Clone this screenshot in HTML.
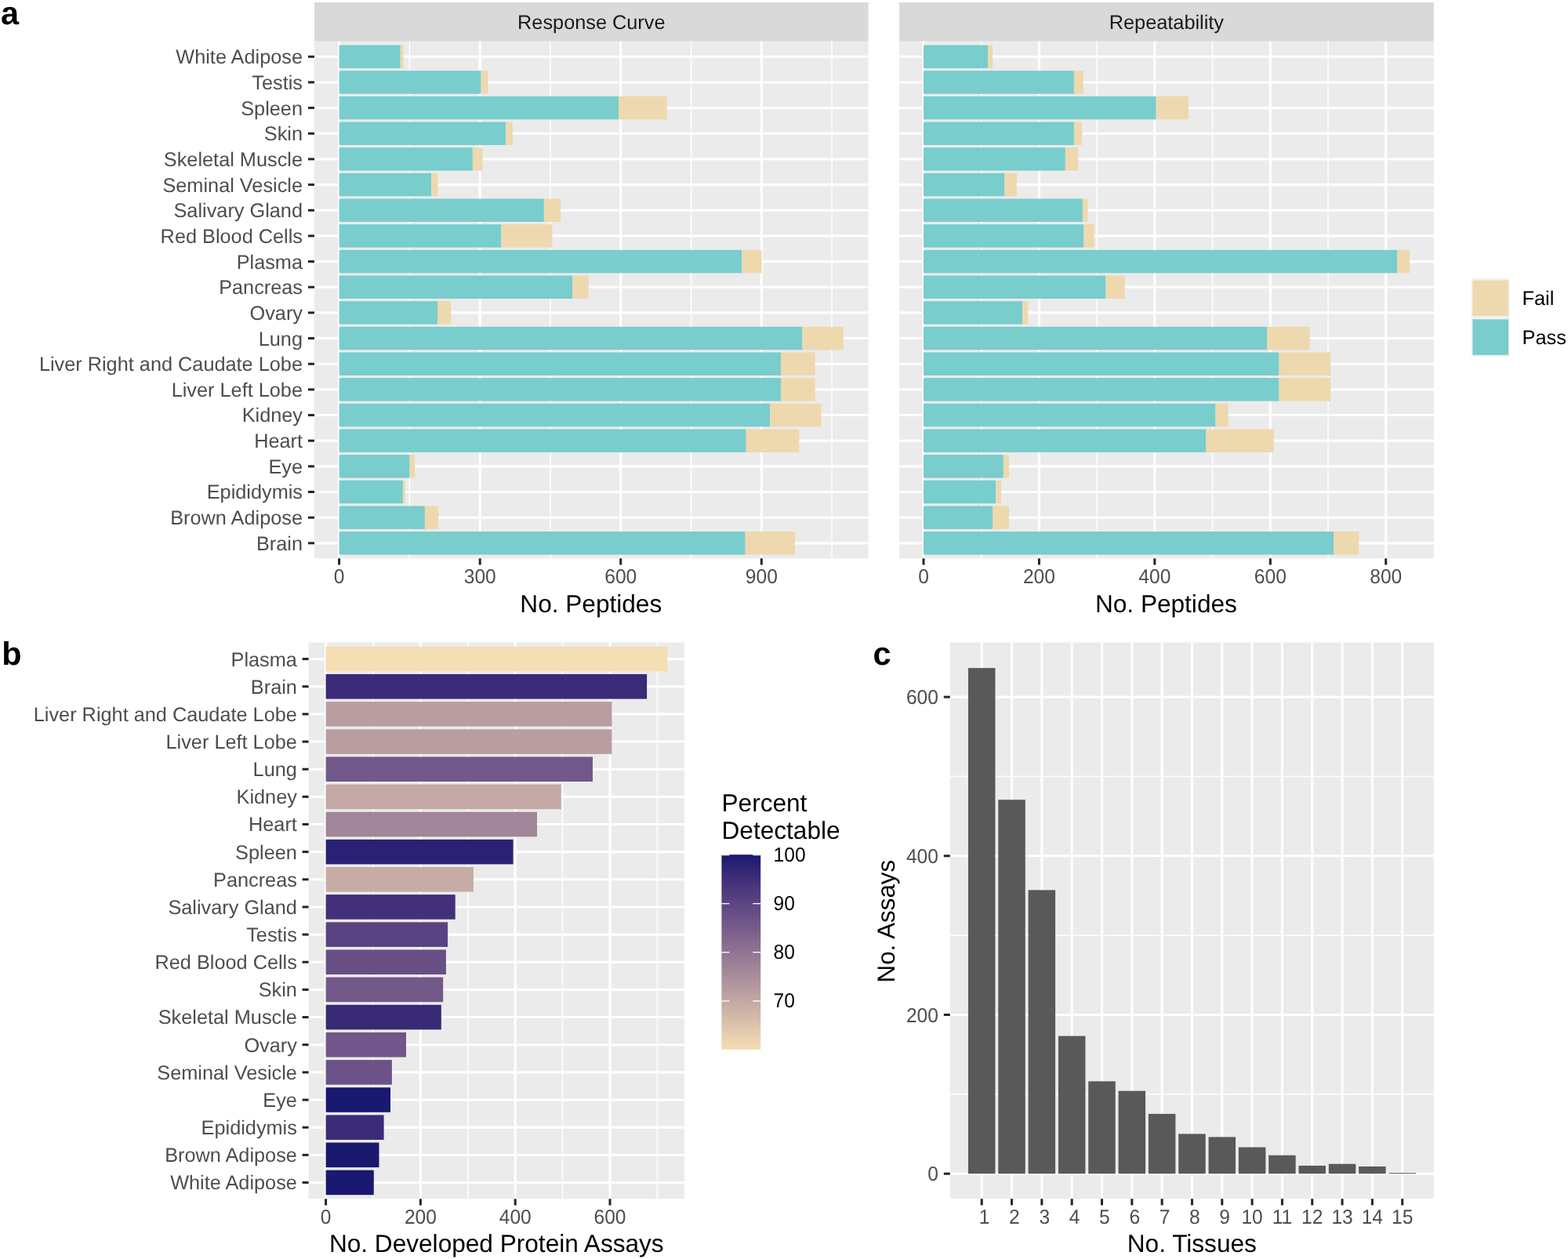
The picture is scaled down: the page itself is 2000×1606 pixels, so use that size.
<!DOCTYPE html>
<html lang="en">
<head>
<meta charset="utf-8">
<title>Figure: peptide assay characterization</title>
<style>
html,body{margin:0;padding:0;background:#fff;}
body{width:2000px;height:1606px;overflow:hidden;}
svg{display:block;font-family:"Liberation Sans", sans-serif;}
svg text{font-family:"Liberation Sans", sans-serif;}
</style>
</head>
<body>
<svg width="2000" height="1606" viewBox="0 0 2000 1606" shape-rendering="auto" text-rendering="geometricPrecision">
<rect x="0" y="0" width="2000" height="1606" fill="#ffffff"/>
<g>
<rect x="401.00" y="3.00" width="706.60" height="49.80" fill="#D9D9D9"/>
<rect x="401.00" y="52.80" width="706.60" height="659.50" fill="#EBEBEB"/>
<line x1="522.40" y1="52.80" x2="522.40" y2="712.30" stroke="#fff" stroke-width="1.5"/>
<line x1="702.00" y1="52.80" x2="702.00" y2="712.30" stroke="#fff" stroke-width="1.5"/>
<line x1="881.50" y1="52.80" x2="881.50" y2="712.30" stroke="#fff" stroke-width="1.5"/>
<line x1="1061.10" y1="52.80" x2="1061.10" y2="712.30" stroke="#fff" stroke-width="1.5"/>
<line x1="401.00" y1="72.30" x2="1107.60" y2="72.30" stroke="#fff" stroke-width="3.1"/>
<line x1="401.00" y1="104.96" x2="1107.60" y2="104.96" stroke="#fff" stroke-width="3.1"/>
<line x1="401.00" y1="137.62" x2="1107.60" y2="137.62" stroke="#fff" stroke-width="3.1"/>
<line x1="401.00" y1="170.28" x2="1107.60" y2="170.28" stroke="#fff" stroke-width="3.1"/>
<line x1="401.00" y1="202.94" x2="1107.60" y2="202.94" stroke="#fff" stroke-width="3.1"/>
<line x1="401.00" y1="235.60" x2="1107.60" y2="235.60" stroke="#fff" stroke-width="3.1"/>
<line x1="401.00" y1="268.26" x2="1107.60" y2="268.26" stroke="#fff" stroke-width="3.1"/>
<line x1="401.00" y1="300.92" x2="1107.60" y2="300.92" stroke="#fff" stroke-width="3.1"/>
<line x1="401.00" y1="333.58" x2="1107.60" y2="333.58" stroke="#fff" stroke-width="3.1"/>
<line x1="401.00" y1="366.24" x2="1107.60" y2="366.24" stroke="#fff" stroke-width="3.1"/>
<line x1="401.00" y1="398.90" x2="1107.60" y2="398.90" stroke="#fff" stroke-width="3.1"/>
<line x1="401.00" y1="431.56" x2="1107.60" y2="431.56" stroke="#fff" stroke-width="3.1"/>
<line x1="401.00" y1="464.22" x2="1107.60" y2="464.22" stroke="#fff" stroke-width="3.1"/>
<line x1="401.00" y1="496.88" x2="1107.60" y2="496.88" stroke="#fff" stroke-width="3.1"/>
<line x1="401.00" y1="529.54" x2="1107.60" y2="529.54" stroke="#fff" stroke-width="3.1"/>
<line x1="401.00" y1="562.20" x2="1107.60" y2="562.20" stroke="#fff" stroke-width="3.1"/>
<line x1="401.00" y1="594.86" x2="1107.60" y2="594.86" stroke="#fff" stroke-width="3.1"/>
<line x1="401.00" y1="627.52" x2="1107.60" y2="627.52" stroke="#fff" stroke-width="3.1"/>
<line x1="401.00" y1="660.18" x2="1107.60" y2="660.18" stroke="#fff" stroke-width="3.1"/>
<line x1="401.00" y1="692.84" x2="1107.60" y2="692.84" stroke="#fff" stroke-width="3.1"/>
<line x1="432.60" y1="52.80" x2="432.60" y2="712.30" stroke="#fff" stroke-width="3.1"/>
<line x1="612.20" y1="52.80" x2="612.20" y2="712.30" stroke="#fff" stroke-width="3.1"/>
<line x1="791.70" y1="52.80" x2="791.70" y2="712.30" stroke="#fff" stroke-width="3.1"/>
<line x1="971.30" y1="52.80" x2="971.30" y2="712.30" stroke="#fff" stroke-width="3.1"/>
<rect x="432.60" y="57.55" width="78.05" height="29.50" fill="#79CDCD"/>
<rect x="510.65" y="57.55" width="3.80" height="29.50" fill="#EED8AE"/>
<rect x="432.60" y="90.21" width="181.05" height="29.50" fill="#79CDCD"/>
<rect x="613.65" y="90.21" width="8.80" height="29.50" fill="#EED8AE"/>
<rect x="432.60" y="122.87" width="356.45" height="29.50" fill="#79CDCD"/>
<rect x="789.05" y="122.87" width="61.60" height="29.50" fill="#EED8AE"/>
<rect x="432.60" y="155.53" width="212.65" height="29.50" fill="#79CDCD"/>
<rect x="645.25" y="155.53" width="8.60" height="29.50" fill="#EED8AE"/>
<rect x="432.60" y="188.19" width="170.25" height="29.50" fill="#79CDCD"/>
<rect x="602.85" y="188.19" width="12.60" height="29.50" fill="#EED8AE"/>
<rect x="432.60" y="220.85" width="117.65" height="29.50" fill="#79CDCD"/>
<rect x="550.25" y="220.85" width="8.20" height="29.50" fill="#EED8AE"/>
<rect x="432.60" y="253.51" width="261.25" height="29.50" fill="#79CDCD"/>
<rect x="693.85" y="253.51" width="21.40" height="29.50" fill="#EED8AE"/>
<rect x="432.60" y="286.17" width="206.65" height="29.50" fill="#79CDCD"/>
<rect x="639.25" y="286.17" width="65.20" height="29.50" fill="#EED8AE"/>
<rect x="432.60" y="318.83" width="513.65" height="29.50" fill="#79CDCD"/>
<rect x="946.25" y="318.83" width="25.20" height="29.50" fill="#EED8AE"/>
<rect x="432.60" y="351.49" width="297.65" height="29.50" fill="#79CDCD"/>
<rect x="730.25" y="351.49" width="20.40" height="29.50" fill="#EED8AE"/>
<rect x="432.60" y="384.15" width="125.45" height="29.50" fill="#79CDCD"/>
<rect x="558.05" y="384.15" width="17.20" height="29.50" fill="#EED8AE"/>
<rect x="432.60" y="416.81" width="590.85" height="29.50" fill="#79CDCD"/>
<rect x="1023.45" y="416.81" width="52.20" height="29.50" fill="#EED8AE"/>
<rect x="432.60" y="449.47" width="563.45" height="29.50" fill="#79CDCD"/>
<rect x="996.05" y="449.47" width="43.60" height="29.50" fill="#EED8AE"/>
<rect x="432.60" y="482.13" width="563.45" height="29.50" fill="#79CDCD"/>
<rect x="996.05" y="482.13" width="43.60" height="29.50" fill="#EED8AE"/>
<rect x="432.60" y="514.79" width="549.65" height="29.50" fill="#79CDCD"/>
<rect x="982.25" y="514.79" width="65.20" height="29.50" fill="#EED8AE"/>
<rect x="432.60" y="547.45" width="519.05" height="29.50" fill="#79CDCD"/>
<rect x="951.65" y="547.45" width="67.60" height="29.50" fill="#EED8AE"/>
<rect x="432.60" y="580.11" width="90.05" height="29.50" fill="#79CDCD"/>
<rect x="522.65" y="580.11" width="6.60" height="29.50" fill="#EED8AE"/>
<rect x="432.60" y="612.77" width="81.25" height="29.50" fill="#79CDCD"/>
<rect x="513.85" y="612.77" width="2.90" height="29.50" fill="#EED8AE"/>
<rect x="432.60" y="645.43" width="109.25" height="29.50" fill="#79CDCD"/>
<rect x="541.85" y="645.43" width="17.40" height="29.50" fill="#EED8AE"/>
<rect x="432.60" y="678.09" width="518.05" height="29.50" fill="#79CDCD"/>
<rect x="950.65" y="678.09" width="63.40" height="29.50" fill="#EED8AE"/>
<line x1="432.60" y1="712.30" x2="432.60" y2="720.50" stroke="#242424" stroke-width="3.0"/>
<text transform="translate(432.60 744.30) scale(0.9480 1)" font-size="25.9" fill="#4D4D4D" text-anchor="middle">0</text>
<line x1="612.20" y1="712.30" x2="612.20" y2="720.50" stroke="#242424" stroke-width="3.0"/>
<text transform="translate(612.20 744.30) scale(0.9480 1)" font-size="25.9" fill="#4D4D4D" text-anchor="middle">300</text>
<line x1="791.70" y1="712.30" x2="791.70" y2="720.50" stroke="#242424" stroke-width="3.0"/>
<text transform="translate(791.70 744.30) scale(0.9480 1)" font-size="25.9" fill="#4D4D4D" text-anchor="middle">600</text>
<line x1="971.30" y1="712.30" x2="971.30" y2="720.50" stroke="#242424" stroke-width="3.0"/>
<text transform="translate(971.30 744.30) scale(0.9480 1)" font-size="25.9" fill="#4D4D4D" text-anchor="middle">900</text>
<text x="754.30" y="37.30" font-size="25.3" fill="#1A1A1A" text-anchor="middle">Response Curve</text>
<text x="753.80" y="781.10" font-size="31.6" fill="#000" text-anchor="middle">No. Peptides</text>
</g>
<g>
<rect x="1147.00" y="3.00" width="681.80" height="49.80" fill="#D9D9D9"/>
<rect x="1147.00" y="52.80" width="681.80" height="659.50" fill="#EBEBEB"/>
<line x1="1251.70" y1="52.80" x2="1251.70" y2="712.30" stroke="#fff" stroke-width="1.5"/>
<line x1="1399.10" y1="52.80" x2="1399.10" y2="712.30" stroke="#fff" stroke-width="1.5"/>
<line x1="1546.50" y1="52.80" x2="1546.50" y2="712.30" stroke="#fff" stroke-width="1.5"/>
<line x1="1694.00" y1="52.80" x2="1694.00" y2="712.30" stroke="#fff" stroke-width="1.5"/>
<line x1="1147.00" y1="72.30" x2="1828.80" y2="72.30" stroke="#fff" stroke-width="3.1"/>
<line x1="1147.00" y1="104.96" x2="1828.80" y2="104.96" stroke="#fff" stroke-width="3.1"/>
<line x1="1147.00" y1="137.62" x2="1828.80" y2="137.62" stroke="#fff" stroke-width="3.1"/>
<line x1="1147.00" y1="170.28" x2="1828.80" y2="170.28" stroke="#fff" stroke-width="3.1"/>
<line x1="1147.00" y1="202.94" x2="1828.80" y2="202.94" stroke="#fff" stroke-width="3.1"/>
<line x1="1147.00" y1="235.60" x2="1828.80" y2="235.60" stroke="#fff" stroke-width="3.1"/>
<line x1="1147.00" y1="268.26" x2="1828.80" y2="268.26" stroke="#fff" stroke-width="3.1"/>
<line x1="1147.00" y1="300.92" x2="1828.80" y2="300.92" stroke="#fff" stroke-width="3.1"/>
<line x1="1147.00" y1="333.58" x2="1828.80" y2="333.58" stroke="#fff" stroke-width="3.1"/>
<line x1="1147.00" y1="366.24" x2="1828.80" y2="366.24" stroke="#fff" stroke-width="3.1"/>
<line x1="1147.00" y1="398.90" x2="1828.80" y2="398.90" stroke="#fff" stroke-width="3.1"/>
<line x1="1147.00" y1="431.56" x2="1828.80" y2="431.56" stroke="#fff" stroke-width="3.1"/>
<line x1="1147.00" y1="464.22" x2="1828.80" y2="464.22" stroke="#fff" stroke-width="3.1"/>
<line x1="1147.00" y1="496.88" x2="1828.80" y2="496.88" stroke="#fff" stroke-width="3.1"/>
<line x1="1147.00" y1="529.54" x2="1828.80" y2="529.54" stroke="#fff" stroke-width="3.1"/>
<line x1="1147.00" y1="562.20" x2="1828.80" y2="562.20" stroke="#fff" stroke-width="3.1"/>
<line x1="1147.00" y1="594.86" x2="1828.80" y2="594.86" stroke="#fff" stroke-width="3.1"/>
<line x1="1147.00" y1="627.52" x2="1828.80" y2="627.52" stroke="#fff" stroke-width="3.1"/>
<line x1="1147.00" y1="660.18" x2="1828.80" y2="660.18" stroke="#fff" stroke-width="3.1"/>
<line x1="1147.00" y1="692.84" x2="1828.80" y2="692.84" stroke="#fff" stroke-width="3.1"/>
<line x1="1178.00" y1="52.80" x2="1178.00" y2="712.30" stroke="#fff" stroke-width="3.1"/>
<line x1="1325.40" y1="52.80" x2="1325.40" y2="712.30" stroke="#fff" stroke-width="3.1"/>
<line x1="1472.80" y1="52.80" x2="1472.80" y2="712.30" stroke="#fff" stroke-width="3.1"/>
<line x1="1620.30" y1="52.80" x2="1620.30" y2="712.30" stroke="#fff" stroke-width="3.1"/>
<line x1="1767.70" y1="52.80" x2="1767.70" y2="712.30" stroke="#fff" stroke-width="3.1"/>
<rect x="1178.00" y="57.55" width="82.25" height="29.50" fill="#79CDCD"/>
<rect x="1260.25" y="57.55" width="5.80" height="29.50" fill="#EED8AE"/>
<rect x="1178.00" y="90.21" width="191.85" height="29.50" fill="#79CDCD"/>
<rect x="1369.85" y="90.21" width="11.80" height="29.50" fill="#EED8AE"/>
<rect x="1178.00" y="122.87" width="296.65" height="29.50" fill="#79CDCD"/>
<rect x="1474.65" y="122.87" width="41.20" height="29.50" fill="#EED8AE"/>
<rect x="1178.00" y="155.53" width="191.85" height="29.50" fill="#79CDCD"/>
<rect x="1369.85" y="155.53" width="10.20" height="29.50" fill="#EED8AE"/>
<rect x="1178.00" y="188.19" width="180.85" height="29.50" fill="#79CDCD"/>
<rect x="1358.85" y="188.19" width="16.20" height="29.50" fill="#EED8AE"/>
<rect x="1178.00" y="220.85" width="103.45" height="29.50" fill="#79CDCD"/>
<rect x="1281.45" y="220.85" width="15.40" height="29.50" fill="#EED8AE"/>
<rect x="1178.00" y="253.51" width="202.85" height="29.50" fill="#79CDCD"/>
<rect x="1380.85" y="253.51" width="6.60" height="29.50" fill="#EED8AE"/>
<rect x="1178.00" y="286.17" width="204.45" height="29.50" fill="#79CDCD"/>
<rect x="1382.45" y="286.17" width="13.20" height="29.50" fill="#EED8AE"/>
<rect x="1178.00" y="318.83" width="604.05" height="29.50" fill="#79CDCD"/>
<rect x="1782.05" y="318.83" width="16.00" height="29.50" fill="#EED8AE"/>
<rect x="1178.00" y="351.49" width="232.45" height="29.50" fill="#79CDCD"/>
<rect x="1410.45" y="351.49" width="24.20" height="29.50" fill="#EED8AE"/>
<rect x="1178.00" y="384.15" width="126.25" height="29.50" fill="#79CDCD"/>
<rect x="1304.25" y="384.15" width="7.20" height="29.50" fill="#EED8AE"/>
<rect x="1178.00" y="416.81" width="438.05" height="29.50" fill="#79CDCD"/>
<rect x="1616.05" y="416.81" width="54.40" height="29.50" fill="#EED8AE"/>
<rect x="1178.00" y="449.47" width="453.45" height="29.50" fill="#79CDCD"/>
<rect x="1631.45" y="449.47" width="65.60" height="29.50" fill="#EED8AE"/>
<rect x="1178.00" y="482.13" width="453.45" height="29.50" fill="#79CDCD"/>
<rect x="1631.45" y="482.13" width="65.60" height="29.50" fill="#EED8AE"/>
<rect x="1178.00" y="514.79" width="372.45" height="29.50" fill="#79CDCD"/>
<rect x="1550.45" y="514.79" width="16.20" height="29.50" fill="#EED8AE"/>
<rect x="1178.00" y="547.45" width="360.05" height="29.50" fill="#79CDCD"/>
<rect x="1538.05" y="547.45" width="86.80" height="29.50" fill="#EED8AE"/>
<rect x="1178.00" y="580.11" width="101.85" height="29.50" fill="#79CDCD"/>
<rect x="1279.85" y="580.11" width="7.20" height="29.50" fill="#EED8AE"/>
<rect x="1178.00" y="612.77" width="92.25" height="29.50" fill="#79CDCD"/>
<rect x="1270.25" y="612.77" width="6.60" height="29.50" fill="#EED8AE"/>
<rect x="1178.00" y="645.43" width="88.05" height="29.50" fill="#79CDCD"/>
<rect x="1266.05" y="645.43" width="21.00" height="29.50" fill="#EED8AE"/>
<rect x="1178.00" y="678.09" width="523.45" height="29.50" fill="#79CDCD"/>
<rect x="1701.45" y="678.09" width="31.80" height="29.50" fill="#EED8AE"/>
<line x1="1178.00" y1="712.30" x2="1178.00" y2="720.50" stroke="#242424" stroke-width="3.0"/>
<text transform="translate(1178.00 744.30) scale(0.9480 1)" font-size="25.9" fill="#4D4D4D" text-anchor="middle">0</text>
<line x1="1325.40" y1="712.30" x2="1325.40" y2="720.50" stroke="#242424" stroke-width="3.0"/>
<text transform="translate(1325.40 744.30) scale(0.9480 1)" font-size="25.9" fill="#4D4D4D" text-anchor="middle">200</text>
<line x1="1472.80" y1="712.30" x2="1472.80" y2="720.50" stroke="#242424" stroke-width="3.0"/>
<text transform="translate(1472.80 744.30) scale(0.9480 1)" font-size="25.9" fill="#4D4D4D" text-anchor="middle">400</text>
<line x1="1620.30" y1="712.30" x2="1620.30" y2="720.50" stroke="#242424" stroke-width="3.0"/>
<text transform="translate(1620.30 744.30) scale(0.9480 1)" font-size="25.9" fill="#4D4D4D" text-anchor="middle">600</text>
<line x1="1767.70" y1="712.30" x2="1767.70" y2="720.50" stroke="#242424" stroke-width="3.0"/>
<text transform="translate(1767.70 744.30) scale(0.9480 1)" font-size="25.9" fill="#4D4D4D" text-anchor="middle">800</text>
<text x="1487.90" y="37.30" font-size="25.3" fill="#1A1A1A" text-anchor="middle">Repeatability</text>
<text x="1487.40" y="781.10" font-size="31.6" fill="#000" text-anchor="middle">No. Peptides</text>
</g>
<line x1="393.00" y1="72.30" x2="401.00" y2="72.30" stroke="#242424" stroke-width="3.0"/>
<text x="386.00" y="81.25" font-size="25.3" fill="#4D4D4D" text-anchor="end">White Adipose</text>
<line x1="393.00" y1="104.96" x2="401.00" y2="104.96" stroke="#242424" stroke-width="3.0"/>
<text x="386.00" y="113.91" font-size="25.3" fill="#4D4D4D" text-anchor="end">Testis</text>
<line x1="393.00" y1="137.62" x2="401.00" y2="137.62" stroke="#242424" stroke-width="3.0"/>
<text x="386.00" y="146.57" font-size="25.3" fill="#4D4D4D" text-anchor="end">Spleen</text>
<line x1="393.00" y1="170.28" x2="401.00" y2="170.28" stroke="#242424" stroke-width="3.0"/>
<text x="386.00" y="179.23" font-size="25.3" fill="#4D4D4D" text-anchor="end">Skin</text>
<line x1="393.00" y1="202.94" x2="401.00" y2="202.94" stroke="#242424" stroke-width="3.0"/>
<text x="386.00" y="211.89" font-size="25.3" fill="#4D4D4D" text-anchor="end">Skeletal Muscle</text>
<line x1="393.00" y1="235.60" x2="401.00" y2="235.60" stroke="#242424" stroke-width="3.0"/>
<text x="386.00" y="244.55" font-size="25.3" fill="#4D4D4D" text-anchor="end">Seminal Vesicle</text>
<line x1="393.00" y1="268.26" x2="401.00" y2="268.26" stroke="#242424" stroke-width="3.0"/>
<text x="386.00" y="277.21" font-size="25.3" fill="#4D4D4D" text-anchor="end">Salivary Gland</text>
<line x1="393.00" y1="300.92" x2="401.00" y2="300.92" stroke="#242424" stroke-width="3.0"/>
<text x="386.00" y="309.87" font-size="25.3" fill="#4D4D4D" text-anchor="end">Red Blood Cells</text>
<line x1="393.00" y1="333.58" x2="401.00" y2="333.58" stroke="#242424" stroke-width="3.0"/>
<text x="386.00" y="342.53" font-size="25.3" fill="#4D4D4D" text-anchor="end">Plasma</text>
<line x1="393.00" y1="366.24" x2="401.00" y2="366.24" stroke="#242424" stroke-width="3.0"/>
<text x="386.00" y="375.19" font-size="25.3" fill="#4D4D4D" text-anchor="end">Pancreas</text>
<line x1="393.00" y1="398.90" x2="401.00" y2="398.90" stroke="#242424" stroke-width="3.0"/>
<text x="386.00" y="407.85" font-size="25.3" fill="#4D4D4D" text-anchor="end">Ovary</text>
<line x1="393.00" y1="431.56" x2="401.00" y2="431.56" stroke="#242424" stroke-width="3.0"/>
<text x="386.00" y="440.51" font-size="25.3" fill="#4D4D4D" text-anchor="end">Lung</text>
<line x1="393.00" y1="464.22" x2="401.00" y2="464.22" stroke="#242424" stroke-width="3.0"/>
<text x="386.00" y="473.17" font-size="25.3" fill="#4D4D4D" text-anchor="end">Liver Right and Caudate Lobe</text>
<line x1="393.00" y1="496.88" x2="401.00" y2="496.88" stroke="#242424" stroke-width="3.0"/>
<text x="386.00" y="505.83" font-size="25.3" fill="#4D4D4D" text-anchor="end">Liver Left Lobe</text>
<line x1="393.00" y1="529.54" x2="401.00" y2="529.54" stroke="#242424" stroke-width="3.0"/>
<text x="386.00" y="538.49" font-size="25.3" fill="#4D4D4D" text-anchor="end">Kidney</text>
<line x1="393.00" y1="562.20" x2="401.00" y2="562.20" stroke="#242424" stroke-width="3.0"/>
<text x="386.00" y="571.15" font-size="25.3" fill="#4D4D4D" text-anchor="end">Heart</text>
<line x1="393.00" y1="594.86" x2="401.00" y2="594.86" stroke="#242424" stroke-width="3.0"/>
<text x="386.00" y="603.81" font-size="25.3" fill="#4D4D4D" text-anchor="end">Eye</text>
<line x1="393.00" y1="627.52" x2="401.00" y2="627.52" stroke="#242424" stroke-width="3.0"/>
<text x="386.00" y="636.47" font-size="25.3" fill="#4D4D4D" text-anchor="end">Epididymis</text>
<line x1="393.00" y1="660.18" x2="401.00" y2="660.18" stroke="#242424" stroke-width="3.0"/>
<text x="386.00" y="669.13" font-size="25.3" fill="#4D4D4D" text-anchor="end">Brown Adipose</text>
<line x1="393.00" y1="692.84" x2="401.00" y2="692.84" stroke="#242424" stroke-width="3.0"/>
<text x="386.00" y="701.79" font-size="25.3" fill="#4D4D4D" text-anchor="end">Brain</text>
<rect x="1876.40" y="355.20" width="49.40" height="99.60" fill="#F2F2F2"/>
<rect x="1878.30" y="357.60" width="45.70" height="45.40" fill="#EED8AE"/>
<rect x="1878.30" y="407.30" width="45.70" height="45.50" fill="#79CDCD"/>
<text x="1941.60" y="389.30" font-size="25.3" fill="#000">Fail</text>
<text x="1941.60" y="438.90" font-size="25.3" fill="#000">Pass</text>
<g>
<rect x="393.60" y="819.50" width="479.40" height="709.80" fill="#EBEBEB"/>
<line x1="476.00" y1="819.50" x2="476.00" y2="1529.30" stroke="#fff" stroke-width="1.5"/>
<line x1="596.80" y1="819.50" x2="596.80" y2="1529.30" stroke="#fff" stroke-width="1.5"/>
<line x1="717.60" y1="819.50" x2="717.60" y2="1529.30" stroke="#fff" stroke-width="1.5"/>
<line x1="838.40" y1="819.50" x2="838.40" y2="1529.30" stroke="#fff" stroke-width="1.5"/>
<line x1="393.60" y1="840.60" x2="873.00" y2="840.60" stroke="#fff" stroke-width="3.1"/>
<line x1="393.60" y1="875.75" x2="873.00" y2="875.75" stroke="#fff" stroke-width="3.1"/>
<line x1="393.60" y1="910.90" x2="873.00" y2="910.90" stroke="#fff" stroke-width="3.1"/>
<line x1="393.60" y1="946.05" x2="873.00" y2="946.05" stroke="#fff" stroke-width="3.1"/>
<line x1="393.60" y1="981.20" x2="873.00" y2="981.20" stroke="#fff" stroke-width="3.1"/>
<line x1="393.60" y1="1016.35" x2="873.00" y2="1016.35" stroke="#fff" stroke-width="3.1"/>
<line x1="393.60" y1="1051.50" x2="873.00" y2="1051.50" stroke="#fff" stroke-width="3.1"/>
<line x1="393.60" y1="1086.65" x2="873.00" y2="1086.65" stroke="#fff" stroke-width="3.1"/>
<line x1="393.60" y1="1121.80" x2="873.00" y2="1121.80" stroke="#fff" stroke-width="3.1"/>
<line x1="393.60" y1="1156.95" x2="873.00" y2="1156.95" stroke="#fff" stroke-width="3.1"/>
<line x1="393.60" y1="1192.10" x2="873.00" y2="1192.10" stroke="#fff" stroke-width="3.1"/>
<line x1="393.60" y1="1227.25" x2="873.00" y2="1227.25" stroke="#fff" stroke-width="3.1"/>
<line x1="393.60" y1="1262.40" x2="873.00" y2="1262.40" stroke="#fff" stroke-width="3.1"/>
<line x1="393.60" y1="1297.55" x2="873.00" y2="1297.55" stroke="#fff" stroke-width="3.1"/>
<line x1="393.60" y1="1332.70" x2="873.00" y2="1332.70" stroke="#fff" stroke-width="3.1"/>
<line x1="393.60" y1="1367.85" x2="873.00" y2="1367.85" stroke="#fff" stroke-width="3.1"/>
<line x1="393.60" y1="1403.00" x2="873.00" y2="1403.00" stroke="#fff" stroke-width="3.1"/>
<line x1="393.60" y1="1438.15" x2="873.00" y2="1438.15" stroke="#fff" stroke-width="3.1"/>
<line x1="393.60" y1="1473.30" x2="873.00" y2="1473.30" stroke="#fff" stroke-width="3.1"/>
<line x1="393.60" y1="1508.45" x2="873.00" y2="1508.45" stroke="#fff" stroke-width="3.1"/>
<line x1="415.60" y1="819.50" x2="415.60" y2="1529.30" stroke="#fff" stroke-width="3.1"/>
<line x1="536.40" y1="819.50" x2="536.40" y2="1529.30" stroke="#fff" stroke-width="3.1"/>
<line x1="657.20" y1="819.50" x2="657.20" y2="1529.30" stroke="#fff" stroke-width="3.1"/>
<line x1="778.00" y1="819.50" x2="778.00" y2="1529.30" stroke="#fff" stroke-width="3.1"/>
<rect x="415.60" y="824.80" width="435.50" height="31.60" fill="#F5DEB3"/>
<line x1="385.60" y1="840.60" x2="393.60" y2="840.60" stroke="#242424" stroke-width="3.0"/>
<text x="378.90" y="849.50" font-size="25.3" fill="#4D4D4D" text-anchor="end">Plasma</text>
<rect x="415.60" y="859.95" width="409.50" height="31.60" fill="#3A2A78"/>
<line x1="385.60" y1="875.75" x2="393.60" y2="875.75" stroke="#242424" stroke-width="3.0"/>
<text x="378.90" y="884.65" font-size="25.3" fill="#4D4D4D" text-anchor="end">Brain</text>
<rect x="415.60" y="895.10" width="364.80" height="31.60" fill="#B99EA1"/>
<line x1="385.60" y1="910.90" x2="393.60" y2="910.90" stroke="#242424" stroke-width="3.0"/>
<text x="378.90" y="919.80" font-size="25.3" fill="#4D4D4D" text-anchor="end">Liver Right and Caudate Lobe</text>
<rect x="415.60" y="930.25" width="364.80" height="31.60" fill="#B99EA1"/>
<line x1="385.60" y1="946.05" x2="393.60" y2="946.05" stroke="#242424" stroke-width="3.0"/>
<text x="378.90" y="954.95" font-size="25.3" fill="#4D4D4D" text-anchor="end">Liver Left Lobe</text>
<rect x="415.60" y="965.40" width="340.40" height="31.60" fill="#72588A"/>
<line x1="385.60" y1="981.20" x2="393.60" y2="981.20" stroke="#242424" stroke-width="3.0"/>
<text x="378.90" y="990.10" font-size="25.3" fill="#4D4D4D" text-anchor="end">Lung</text>
<rect x="415.60" y="1000.55" width="300.10" height="31.60" fill="#C3A8A4"/>
<line x1="385.60" y1="1016.35" x2="393.60" y2="1016.35" stroke="#242424" stroke-width="3.0"/>
<text x="378.90" y="1025.25" font-size="25.3" fill="#4D4D4D" text-anchor="end">Kidney</text>
<rect x="415.60" y="1035.70" width="269.40" height="31.60" fill="#A18599"/>
<line x1="385.60" y1="1051.50" x2="393.60" y2="1051.50" stroke="#242424" stroke-width="3.0"/>
<text x="378.90" y="1060.40" font-size="25.3" fill="#4D4D4D" text-anchor="end">Heart</text>
<rect x="415.60" y="1070.85" width="239.00" height="31.60" fill="#2B2174"/>
<line x1="385.60" y1="1086.65" x2="393.60" y2="1086.65" stroke="#242424" stroke-width="3.0"/>
<text x="378.90" y="1095.55" font-size="25.3" fill="#4D4D4D" text-anchor="end">Spleen</text>
<rect x="415.60" y="1106.00" width="188.30" height="31.60" fill="#C7ACA5"/>
<line x1="385.60" y1="1121.80" x2="393.60" y2="1121.80" stroke="#242424" stroke-width="3.0"/>
<text x="378.90" y="1130.70" font-size="25.3" fill="#4D4D4D" text-anchor="end">Pancreas</text>
<rect x="415.60" y="1141.15" width="165.10" height="31.60" fill="#42307A"/>
<line x1="385.60" y1="1156.95" x2="393.60" y2="1156.95" stroke="#242424" stroke-width="3.0"/>
<text x="378.90" y="1165.85" font-size="25.3" fill="#4D4D4D" text-anchor="end">Salivary Gland</text>
<rect x="415.60" y="1176.30" width="155.50" height="31.60" fill="#5A4382"/>
<line x1="385.60" y1="1192.10" x2="393.60" y2="1192.10" stroke="#242424" stroke-width="3.0"/>
<text x="378.90" y="1201.00" font-size="25.3" fill="#4D4D4D" text-anchor="end">Testis</text>
<rect x="415.60" y="1211.45" width="153.30" height="31.60" fill="#684F86"/>
<line x1="385.60" y1="1227.25" x2="393.60" y2="1227.25" stroke="#242424" stroke-width="3.0"/>
<text x="378.90" y="1236.15" font-size="25.3" fill="#4D4D4D" text-anchor="end">Red Blood Cells</text>
<rect x="415.60" y="1246.60" width="149.60" height="31.60" fill="#73598A"/>
<line x1="385.60" y1="1262.40" x2="393.60" y2="1262.40" stroke="#242424" stroke-width="3.0"/>
<text x="378.90" y="1271.30" font-size="25.3" fill="#4D4D4D" text-anchor="end">Skin</text>
<rect x="415.60" y="1281.75" width="147.20" height="31.60" fill="#382977"/>
<line x1="385.60" y1="1297.55" x2="393.60" y2="1297.55" stroke="#242424" stroke-width="3.0"/>
<text x="378.90" y="1306.45" font-size="25.3" fill="#4D4D4D" text-anchor="end">Skeletal Muscle</text>
<rect x="415.60" y="1316.90" width="102.40" height="31.60" fill="#705689"/>
<line x1="385.60" y1="1332.70" x2="393.60" y2="1332.70" stroke="#242424" stroke-width="3.0"/>
<text x="378.90" y="1341.60" font-size="25.3" fill="#4D4D4D" text-anchor="end">Ovary</text>
<rect x="415.60" y="1352.05" width="84.30" height="31.60" fill="#6C5288"/>
<line x1="385.60" y1="1367.85" x2="393.60" y2="1367.85" stroke="#242424" stroke-width="3.0"/>
<text x="378.90" y="1376.75" font-size="25.3" fill="#4D4D4D" text-anchor="end">Seminal Vesicle</text>
<rect x="415.60" y="1387.20" width="82.40" height="31.60" fill="#191970"/>
<line x1="385.60" y1="1403.00" x2="393.60" y2="1403.00" stroke="#242424" stroke-width="3.0"/>
<text x="378.90" y="1411.90" font-size="25.3" fill="#4D4D4D" text-anchor="end">Eye</text>
<rect x="415.60" y="1422.35" width="74.00" height="31.60" fill="#3B2B78"/>
<line x1="385.60" y1="1438.15" x2="393.60" y2="1438.15" stroke="#242424" stroke-width="3.0"/>
<text x="378.90" y="1447.05" font-size="25.3" fill="#4D4D4D" text-anchor="end">Epididymis</text>
<rect x="415.60" y="1457.50" width="67.90" height="31.60" fill="#191970"/>
<line x1="385.60" y1="1473.30" x2="393.60" y2="1473.30" stroke="#242424" stroke-width="3.0"/>
<text x="378.90" y="1482.20" font-size="25.3" fill="#4D4D4D" text-anchor="end">Brown Adipose</text>
<rect x="415.60" y="1492.65" width="61.20" height="31.60" fill="#191970"/>
<line x1="385.60" y1="1508.45" x2="393.60" y2="1508.45" stroke="#242424" stroke-width="3.0"/>
<text x="378.90" y="1517.35" font-size="25.3" fill="#4D4D4D" text-anchor="end">White Adipose</text>
<line x1="415.60" y1="1529.30" x2="415.60" y2="1537.50" stroke="#242424" stroke-width="3.0"/>
<text transform="translate(415.60 1561.00) scale(0.9480 1)" font-size="25.9" fill="#4D4D4D" text-anchor="middle">0</text>
<line x1="536.40" y1="1529.30" x2="536.40" y2="1537.50" stroke="#242424" stroke-width="3.0"/>
<text transform="translate(536.40 1561.00) scale(0.9480 1)" font-size="25.9" fill="#4D4D4D" text-anchor="middle">200</text>
<line x1="657.20" y1="1529.30" x2="657.20" y2="1537.50" stroke="#242424" stroke-width="3.0"/>
<text transform="translate(657.20 1561.00) scale(0.9480 1)" font-size="25.9" fill="#4D4D4D" text-anchor="middle">400</text>
<line x1="778.00" y1="1529.30" x2="778.00" y2="1537.50" stroke="#242424" stroke-width="3.0"/>
<text transform="translate(778.00 1561.00) scale(0.9480 1)" font-size="25.9" fill="#4D4D4D" text-anchor="middle">600</text>
<text x="633.30" y="1596.90" font-size="31.6" fill="#000" text-anchor="middle">No. Developed Protein Assays</text>
</g>
<defs><linearGradient id="cb" x1="0" y1="0" x2="0" y2="1"><stop offset="0.0000" stop-color="#191970"/><stop offset="0.0417" stop-color="#282073"/><stop offset="0.0833" stop-color="#352776"/><stop offset="0.1250" stop-color="#402E79"/><stop offset="0.1667" stop-color="#4A367C"/><stop offset="0.2083" stop-color="#533D7F"/><stop offset="0.2500" stop-color="#5C4582"/><stop offset="0.2917" stop-color="#654C85"/><stop offset="0.3333" stop-color="#6E5488"/><stop offset="0.3750" stop-color="#775C8B"/><stop offset="0.4167" stop-color="#7F648E"/><stop offset="0.4583" stop-color="#886C91"/><stop offset="0.5000" stop-color="#907594"/><stop offset="0.5417" stop-color="#997D96"/><stop offset="0.5833" stop-color="#A18599"/><stop offset="0.6250" stop-color="#A98E9C"/><stop offset="0.6667" stop-color="#B2969F"/><stop offset="0.7083" stop-color="#BA9FA1"/><stop offset="0.7500" stop-color="#C3A8A4"/><stop offset="0.7917" stop-color="#CBB1A6"/><stop offset="0.8333" stop-color="#D3BAA9"/><stop offset="0.8750" stop-color="#DCC3AC"/><stop offset="0.9167" stop-color="#E4CCAE"/><stop offset="0.9583" stop-color="#EDD5B1"/><stop offset="1.0000" stop-color="#F5DEB3"/></linearGradient></defs>
<rect x="920.4" y="1090.2" width="49.80" height="248.80" fill="url(#cb)"/>
<line x1="920.40" y1="1090.60" x2="930.40" y2="1090.60" stroke="#fff" stroke-width="1.3"/>
<line x1="960.20" y1="1090.60" x2="970.20" y2="1090.60" stroke="#fff" stroke-width="1.3"/>
<text transform="translate(986.60 1099.00) scale(0.9480 1)" font-size="25.9" fill="#000">100</text>
<line x1="920.40" y1="1152.70" x2="930.40" y2="1152.70" stroke="#fff" stroke-width="1.3"/>
<line x1="960.20" y1="1152.70" x2="970.20" y2="1152.70" stroke="#fff" stroke-width="1.3"/>
<text transform="translate(986.60 1161.10) scale(0.9480 1)" font-size="25.9" fill="#000">90</text>
<line x1="920.40" y1="1214.80" x2="930.40" y2="1214.80" stroke="#fff" stroke-width="1.3"/>
<line x1="960.20" y1="1214.80" x2="970.20" y2="1214.80" stroke="#fff" stroke-width="1.3"/>
<text transform="translate(986.60 1223.20) scale(0.9480 1)" font-size="25.9" fill="#000">80</text>
<line x1="920.40" y1="1276.90" x2="930.40" y2="1276.90" stroke="#fff" stroke-width="1.3"/>
<line x1="960.20" y1="1276.90" x2="970.20" y2="1276.90" stroke="#fff" stroke-width="1.3"/>
<text transform="translate(986.60 1285.30) scale(0.9480 1)" font-size="25.9" fill="#000">70</text>
<text x="920.50" y="1035.30" font-size="31.6" fill="#000">Percent</text>
<text x="920.50" y="1069.80" font-size="31.6" fill="#000">Detectable</text>
<g>
<rect x="1211.80" y="819.50" width="617.00" height="709.70" fill="#EBEBEB"/>
<line x1="1211.80" y1="1395.85" x2="1828.80" y2="1395.85" stroke="#fff" stroke-width="1.5"/>
<line x1="1211.80" y1="1193.15" x2="1828.80" y2="1193.15" stroke="#fff" stroke-width="1.5"/>
<line x1="1211.80" y1="990.45" x2="1828.80" y2="990.45" stroke="#fff" stroke-width="1.5"/>
<line x1="1211.80" y1="1497.20" x2="1828.80" y2="1497.20" stroke="#fff" stroke-width="3.1"/>
<line x1="1211.80" y1="1294.50" x2="1828.80" y2="1294.50" stroke="#fff" stroke-width="3.1"/>
<line x1="1211.80" y1="1091.80" x2="1828.80" y2="1091.80" stroke="#fff" stroke-width="3.1"/>
<line x1="1211.80" y1="889.10" x2="1828.80" y2="889.10" stroke="#fff" stroke-width="3.1"/>
<line x1="1252.20" y1="819.50" x2="1252.20" y2="1529.20" stroke="#fff" stroke-width="3.1"/>
<line x1="1290.52" y1="819.50" x2="1290.52" y2="1529.20" stroke="#fff" stroke-width="3.1"/>
<line x1="1328.84" y1="819.50" x2="1328.84" y2="1529.20" stroke="#fff" stroke-width="3.1"/>
<line x1="1367.16" y1="819.50" x2="1367.16" y2="1529.20" stroke="#fff" stroke-width="3.1"/>
<line x1="1405.48" y1="819.50" x2="1405.48" y2="1529.20" stroke="#fff" stroke-width="3.1"/>
<line x1="1443.80" y1="819.50" x2="1443.80" y2="1529.20" stroke="#fff" stroke-width="3.1"/>
<line x1="1482.12" y1="819.50" x2="1482.12" y2="1529.20" stroke="#fff" stroke-width="3.1"/>
<line x1="1520.44" y1="819.50" x2="1520.44" y2="1529.20" stroke="#fff" stroke-width="3.1"/>
<line x1="1558.76" y1="819.50" x2="1558.76" y2="1529.20" stroke="#fff" stroke-width="3.1"/>
<line x1="1597.08" y1="819.50" x2="1597.08" y2="1529.20" stroke="#fff" stroke-width="3.1"/>
<line x1="1635.40" y1="819.50" x2="1635.40" y2="1529.20" stroke="#fff" stroke-width="3.1"/>
<line x1="1673.72" y1="819.50" x2="1673.72" y2="1529.20" stroke="#fff" stroke-width="3.1"/>
<line x1="1712.04" y1="819.50" x2="1712.04" y2="1529.20" stroke="#fff" stroke-width="3.1"/>
<line x1="1750.36" y1="819.50" x2="1750.36" y2="1529.20" stroke="#fff" stroke-width="3.1"/>
<line x1="1788.68" y1="819.50" x2="1788.68" y2="1529.20" stroke="#fff" stroke-width="3.1"/>
<rect x="1234.95" y="852.11" width="34.50" height="645.09" fill="#595959"/>
<line x1="1252.20" y1="1529.20" x2="1252.20" y2="1537.40" stroke="#242424" stroke-width="3.0"/>
<text transform="translate(1252.20 1561.00) scale(0.9480 1)" font-size="25.9" fill="#4D4D4D" text-anchor="middle">&#160;1</text>
<rect x="1273.27" y="1020.15" width="34.50" height="477.05" fill="#595959"/>
<line x1="1290.52" y1="1529.20" x2="1290.52" y2="1537.40" stroke="#242424" stroke-width="3.0"/>
<text transform="translate(1290.52 1561.00) scale(0.9480 1)" font-size="25.9" fill="#4D4D4D" text-anchor="middle">&#160;2</text>
<rect x="1311.59" y="1135.38" width="34.50" height="361.82" fill="#595959"/>
<line x1="1328.84" y1="1529.20" x2="1328.84" y2="1537.40" stroke="#242424" stroke-width="3.0"/>
<text transform="translate(1328.84 1561.00) scale(0.9480 1)" font-size="25.9" fill="#4D4D4D" text-anchor="middle">&#160;3</text>
<rect x="1349.91" y="1321.56" width="34.50" height="175.64" fill="#595959"/>
<line x1="1367.16" y1="1529.20" x2="1367.16" y2="1537.40" stroke="#242424" stroke-width="3.0"/>
<text transform="translate(1367.16 1561.00) scale(0.9480 1)" font-size="25.9" fill="#4D4D4D" text-anchor="middle">&#160;4</text>
<rect x="1388.23" y="1379.33" width="34.50" height="117.87" fill="#595959"/>
<line x1="1405.48" y1="1529.20" x2="1405.48" y2="1537.40" stroke="#242424" stroke-width="3.0"/>
<text transform="translate(1405.48 1561.00) scale(0.9480 1)" font-size="25.9" fill="#4D4D4D" text-anchor="middle">&#160;5</text>
<rect x="1426.55" y="1391.59" width="34.50" height="105.61" fill="#595959"/>
<line x1="1443.80" y1="1529.20" x2="1443.80" y2="1537.40" stroke="#242424" stroke-width="3.0"/>
<text transform="translate(1443.80 1561.00) scale(0.9480 1)" font-size="25.9" fill="#4D4D4D" text-anchor="middle">&#160;6</text>
<rect x="1464.87" y="1420.88" width="34.50" height="76.32" fill="#595959"/>
<line x1="1482.12" y1="1529.20" x2="1482.12" y2="1537.40" stroke="#242424" stroke-width="3.0"/>
<text transform="translate(1482.12 1561.00) scale(0.9480 1)" font-size="25.9" fill="#4D4D4D" text-anchor="middle">&#160;7</text>
<rect x="1503.19" y="1446.42" width="34.50" height="50.78" fill="#595959"/>
<line x1="1520.44" y1="1529.20" x2="1520.44" y2="1537.40" stroke="#242424" stroke-width="3.0"/>
<text transform="translate(1520.44 1561.00) scale(0.9480 1)" font-size="25.9" fill="#4D4D4D" text-anchor="middle">&#160;8</text>
<rect x="1541.51" y="1450.38" width="34.50" height="46.82" fill="#595959"/>
<line x1="1558.76" y1="1529.20" x2="1558.76" y2="1537.40" stroke="#242424" stroke-width="3.0"/>
<text transform="translate(1558.76 1561.00) scale(0.9480 1)" font-size="25.9" fill="#4D4D4D" text-anchor="middle">&#160;9</text>
<rect x="1579.83" y="1463.45" width="34.50" height="33.75" fill="#595959"/>
<line x1="1597.08" y1="1529.20" x2="1597.08" y2="1537.40" stroke="#242424" stroke-width="3.0"/>
<text transform="translate(1597.08 1561.00) scale(0.9480 1)" font-size="25.9" fill="#4D4D4D" text-anchor="middle">10</text>
<rect x="1618.15" y="1473.69" width="34.50" height="23.51" fill="#595959"/>
<line x1="1635.40" y1="1529.20" x2="1635.40" y2="1537.40" stroke="#242424" stroke-width="3.0"/>
<text transform="translate(1635.40 1561.00) scale(0.9480 1)" font-size="25.9" fill="#4D4D4D" text-anchor="middle">11</text>
<rect x="1656.47" y="1486.96" width="34.50" height="10.24" fill="#595959"/>
<line x1="1673.72" y1="1529.20" x2="1673.72" y2="1537.40" stroke="#242424" stroke-width="3.0"/>
<text transform="translate(1673.72 1561.00) scale(0.9480 1)" font-size="25.9" fill="#4D4D4D" text-anchor="middle">12</text>
<rect x="1694.79" y="1484.73" width="34.50" height="12.47" fill="#595959"/>
<line x1="1712.04" y1="1529.20" x2="1712.04" y2="1537.40" stroke="#242424" stroke-width="3.0"/>
<text transform="translate(1712.04 1561.00) scale(0.9480 1)" font-size="25.9" fill="#4D4D4D" text-anchor="middle">13</text>
<rect x="1733.11" y="1487.98" width="34.50" height="9.22" fill="#595959"/>
<line x1="1750.36" y1="1529.20" x2="1750.36" y2="1537.40" stroke="#242424" stroke-width="3.0"/>
<text transform="translate(1750.36 1561.00) scale(0.9480 1)" font-size="25.9" fill="#4D4D4D" text-anchor="middle">14</text>
<rect x="1771.43" y="1496.19" width="34.50" height="1.01" fill="#595959"/>
<line x1="1788.68" y1="1529.20" x2="1788.68" y2="1537.40" stroke="#242424" stroke-width="3.0"/>
<text transform="translate(1788.68 1561.00) scale(0.9480 1)" font-size="25.9" fill="#4D4D4D" text-anchor="middle">15</text>
<line x1="1203.80" y1="1497.20" x2="1211.80" y2="1497.20" stroke="#242424" stroke-width="3.0"/>
<text transform="translate(1196.90 1506.35) scale(0.9480 1)" font-size="25.9" fill="#4D4D4D" text-anchor="end">0</text>
<line x1="1203.80" y1="1294.50" x2="1211.80" y2="1294.50" stroke="#242424" stroke-width="3.0"/>
<text transform="translate(1196.90 1303.65) scale(0.9480 1)" font-size="25.9" fill="#4D4D4D" text-anchor="end">200</text>
<line x1="1203.80" y1="1091.80" x2="1211.80" y2="1091.80" stroke="#242424" stroke-width="3.0"/>
<text transform="translate(1196.90 1100.95) scale(0.9480 1)" font-size="25.9" fill="#4D4D4D" text-anchor="end">400</text>
<line x1="1203.80" y1="889.10" x2="1211.80" y2="889.10" stroke="#242424" stroke-width="3.0"/>
<text transform="translate(1196.90 898.25) scale(0.9480 1)" font-size="25.9" fill="#4D4D4D" text-anchor="end">600</text>
<text x="1520.30" y="1596.90" font-size="31.6" fill="#000" text-anchor="middle">No. Tissues</text>
<text x="1140.80" y="1175.15" font-size="31.3" fill="#000" text-anchor="middle" transform="rotate(-90 1140.80 1175.15)">No. Assays</text>
</g>
<text x="1.00" y="31.30" font-size="41.5" fill="#000" font-weight="bold">a</text>
<text x="2.30" y="847.70" font-size="41.5" fill="#000" font-weight="bold">b</text>
<text x="1113.40" y="847.70" font-size="41.5" fill="#000" font-weight="bold">c</text>
</svg>
</body>
</html>
